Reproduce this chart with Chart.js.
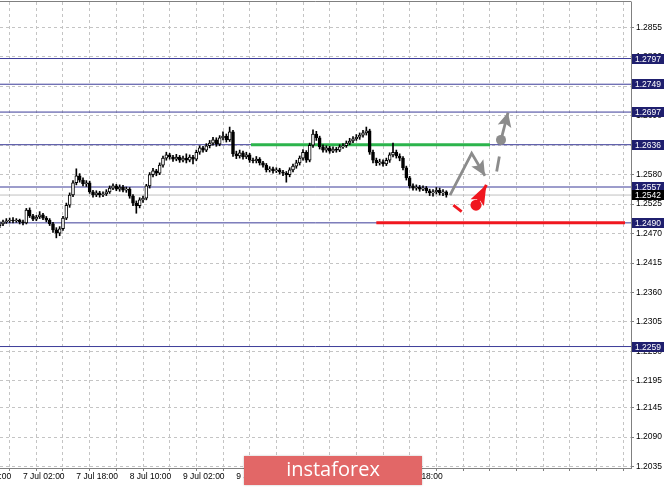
<!DOCTYPE html>
<html>
<head>
<meta charset="utf-8">
<script src="https://cdn.jsdelivr.net/npm/chart.js@4.4.0/dist/chart.umd.min.js"></script>
<style>
  html, body { margin: 0; padding: 0; background: #ffffff; }
</style>
</head>
<body>
<canvas id="chart" width="665" height="487"></canvas>
<script>
// GBPUSD H1, one entry per bar (bar index 0 = first bar on the left)
const opens = [
  1.2485, 1.2488, 1.2492, 1.2494, 1.2495, 1.2494, 1.2495, 1.2492, 1.2490, 1.2514,
  1.2503, 1.2497, 1.2501, 1.2505, 1.2499, 1.2495, 1.2488, 1.2477, 1.2471, 1.2479,
  1.2499, 1.2523, 1.2542, 1.2565, 1.2578, 1.2570, 1.2563, 1.2565, 1.2548, 1.2542,
  1.2546, 1.2542, 1.2544, 1.2548, 1.2555, 1.2559, 1.2553, 1.2557, 1.2551, 1.2553,
  1.2540, 1.2527, 1.2522, 1.2533, 1.2536, 1.2559, 1.2580, 1.2587, 1.2583, 1.2598,
  1.2611, 1.2617, 1.2613, 1.2609, 1.2613, 1.2607, 1.2611, 1.2607, 1.2613, 1.2609,
  1.2622, 1.2630, 1.2626, 1.2634, 1.2639, 1.2645, 1.2637, 1.2649, 1.2652, 1.2645,
  1.2660, 1.2619, 1.2615, 1.2621, 1.2613, 1.2617, 1.2607, 1.2606, 1.2609, 1.2602,
  1.2598, 1.2589, 1.2591, 1.2587, 1.2589, 1.2585, 1.2583, 1.2580, 1.2589, 1.2596,
  1.2602, 1.2611, 1.2622, 1.2607, 1.2635, 1.2656, 1.2649, 1.2632, 1.2626, 1.2630,
  1.2624, 1.2628, 1.2626, 1.2632, 1.2634, 1.2639, 1.2643, 1.2647, 1.2650, 1.2654,
  1.2658, 1.2662, 1.2622, 1.2607, 1.2602, 1.2604, 1.2600, 1.2607, 1.2617, 1.2622,
  1.2615, 1.2611, 1.2593, 1.2574, 1.2559, 1.2555, 1.2557, 1.2553, 1.2555, 1.2550,
  1.2546, 1.2548, 1.2551, 1.2546, 1.2548
];
const highs = [
  1.2492, 1.2495, 1.2498, 1.2499, 1.2500, 1.2498, 1.2497, 1.2495, 1.2517, 1.2518,
  1.2506, 1.2504, 1.2511, 1.2508, 1.2502, 1.2498, 1.2491, 1.2481, 1.2483, 1.2502,
  1.2527, 1.2546, 1.2569, 1.2591, 1.2582, 1.2574, 1.2569, 1.2568, 1.2551, 1.2550,
  1.2549, 1.2548, 1.2552, 1.2559, 1.2563, 1.2562, 1.2561, 1.2560, 1.2557, 1.2556,
  1.2543, 1.2531, 1.2537, 1.2540, 1.2562, 1.2584, 1.2592, 1.2590, 1.2602, 1.2615,
  1.2622, 1.2620, 1.2616, 1.2618, 1.2616, 1.2615, 1.2619, 1.2617, 1.2616, 1.2626,
  1.2634, 1.2633, 1.2638, 1.2644, 1.2650, 1.2649, 1.2653, 1.2660, 1.2656, 1.2669,
  1.2663, 1.2624, 1.2626, 1.2624, 1.2622, 1.2620, 1.2611, 1.2614, 1.2612, 1.2605,
  1.2601, 1.2595, 1.2594, 1.2593, 1.2592, 1.2588, 1.2586, 1.2593, 1.2600, 1.2607,
  1.2615, 1.2627, 1.2625, 1.2639, 1.2664, 1.2661, 1.2652, 1.2636, 1.2634, 1.2633,
  1.2632, 1.2631, 1.2636, 1.2638, 1.2643, 1.2648, 1.2651, 1.2655, 1.2658, 1.2663,
  1.2669, 1.2665, 1.2626, 1.2611, 1.2609, 1.2608, 1.2611, 1.2621, 1.2639, 1.2626,
  1.2619, 1.2614, 1.2596, 1.2577, 1.2563, 1.2561, 1.2560, 1.2559, 1.2558, 1.2553,
  1.2552, 1.2556, 1.2555, 1.2552, 1.2550
];
const lows = [
  1.2481, 1.2485, 1.2489, 1.2490, 1.2490, 1.2491, 1.2488, 1.2486, 1.2488, 1.2500,
  1.2494, 1.2494, 1.2498, 1.2496, 1.2492, 1.2485, 1.2472, 1.2462, 1.2466, 1.2476,
  1.2496, 1.2519, 1.2539, 1.2561, 1.2566, 1.2559, 1.2558, 1.2545, 1.2538, 1.2539,
  1.2538, 1.2539, 1.2541, 1.2545, 1.2552, 1.2550, 1.2549, 1.2548, 1.2547, 1.2536,
  1.2522, 1.2508, 1.2518, 1.2528, 1.2533, 1.2555, 1.2576, 1.2578, 1.2580, 1.2594,
  1.2607, 1.2609, 1.2605, 1.2606, 1.2603, 1.2604, 1.2602, 1.2604, 1.2600, 1.2606,
  1.2618, 1.2622, 1.2623, 1.2630, 1.2635, 1.2633, 1.2634, 1.2645, 1.2641, 1.2642,
  1.2614, 1.2610, 1.2611, 1.2609, 1.2610, 1.2603, 1.2602, 1.2602, 1.2598, 1.2594,
  1.2585, 1.2585, 1.2583, 1.2584, 1.2581, 1.2578, 1.2566, 1.2576, 1.2585, 1.2592,
  1.2598, 1.2607, 1.2603, 1.2604, 1.2631, 1.2644, 1.2628, 1.2622, 1.2622, 1.2620,
  1.2621, 1.2622, 1.2623, 1.2629, 1.2631, 1.2636, 1.2640, 1.2644, 1.2646, 1.2650,
  1.2654, 1.2618, 1.2602, 1.2597, 1.2598, 1.2596, 1.2597, 1.2603, 1.2613, 1.2611,
  1.2606, 1.2589, 1.2570, 1.2555, 1.2551, 1.2551, 1.2549, 1.2550, 1.2546, 1.2541,
  1.2540, 1.2544, 1.2542, 1.2541, 1.2538
];
const closes = [
  1.2488, 1.2492, 1.2494, 1.2495, 1.2494, 1.2495, 1.2492, 1.2490, 1.2514, 1.2503,
  1.2497, 1.2501, 1.2505, 1.2499, 1.2495, 1.2488, 1.2477, 1.2471, 1.2479, 1.2499,
  1.2523, 1.2542, 1.2565, 1.2578, 1.2570, 1.2563, 1.2565, 1.2548, 1.2542, 1.2546,
  1.2542, 1.2544, 1.2548, 1.2555, 1.2559, 1.2553, 1.2557, 1.2551, 1.2553, 1.2540,
  1.2527, 1.2522, 1.2533, 1.2536, 1.2559, 1.2580, 1.2587, 1.2583, 1.2598, 1.2611,
  1.2617, 1.2613, 1.2609, 1.2613, 1.2607, 1.2611, 1.2607, 1.2613, 1.2609, 1.2622,
  1.2630, 1.2626, 1.2634, 1.2639, 1.2645, 1.2637, 1.2649, 1.2652, 1.2645, 1.2660,
  1.2619, 1.2615, 1.2621, 1.2613, 1.2617, 1.2607, 1.2606, 1.2609, 1.2602, 1.2598,
  1.2589, 1.2591, 1.2587, 1.2589, 1.2585, 1.2583, 1.2580, 1.2589, 1.2596, 1.2602,
  1.2611, 1.2622, 1.2607, 1.2635, 1.2656, 1.2649, 1.2632, 1.2626, 1.2630, 1.2624,
  1.2628, 1.2626, 1.2632, 1.2634, 1.2639, 1.2643, 1.2647, 1.2650, 1.2654, 1.2658,
  1.2662, 1.2622, 1.2607, 1.2602, 1.2604, 1.2600, 1.2607, 1.2617, 1.2622, 1.2615,
  1.2611, 1.2593, 1.2574, 1.2559, 1.2555, 1.2557, 1.2553, 1.2555, 1.2550, 1.2546,
  1.2548, 1.2551, 1.2546, 1.2548, 1.2542
];

// time axis: vertical grid every 8 bars, labels every 16 bars
const xGridIdx = [-9, -1, 7, 15, 23, 31, 39, 47, 55, 63, 71, 79, 87, 95, 103, 111,
                  119, 127, 135, 143, 151, 159, 167, 175, 183];
const xTickIdx = [-9, 7, 23, 39, 55, 71, 87, 103, 119];
const xTickLabels = ["6 Jul 10:00", "7 Jul 02:00", "7 Jul 18:00", "8 Jul 10:00", "9 Jul 02:00",
                     "9 Jul 18:00", "10 Jul 10:00", "13 Jul 02:00", "13 Jul 18:00"];

const yTickValues = [1.2855, 1.2800, 1.2745, 1.2690, 1.2635, 1.2580, 1.2525, 1.2470,
                     1.2415, 1.2360, 1.2305, 1.2250, 1.2195, 1.2145, 1.2090, 1.2035];
const yTickLabels = yTickValues.map(v => v.toFixed(4));

// horizontal levels drawn on the chart
const levelValues = [1.2797, 1.2749, 1.2697, 1.2636, 1.2557, 1.2490, 1.2259];
const currentPrice = 1.2542;
const greenLevel = [1.2636, 75.4, 147.1];   // value, from bar, to bar
const redLevel = [1.2490, 113, 187.6];

// forecast arrows, in [bar, price]
const grayPath = [[135.1, 1.2542], [141.6, 1.2620], [145.6, 1.2578]];
const grayTick = [[149.1, 1.2586], [149.9, 1.2614]];
const grayUp = [[150.4, 1.2645], [152.5, 1.2696]];
const redTick = [[136.1, 1.2523], [138.6, 1.2511]];
const redUp = [[142.9, 1.2523], [146.0, 1.2561]];

const xMin = 0.1, xMax = 189.4;
const yMin = 1.20321, yMax = 1.29026;

const FONT = { family: "'Liberation Sans', Arial, sans-serif", size: 8.5 };
const NAVY_LINE = "#3b3b98";
const NAVY_BOX = "#1f1f6e";

function flat(value, from, to) {
  return [{ x: from, y: value }, { x: to, y: value }];
}
function pts(list) {
  return list.map(p => ({ x: p[0], y: p[1] }));
}
function lineSet(data, color, width, order, extra) {
  return Object.assign({
    type: "line", data, borderColor: color, backgroundColor: color, borderWidth: width,
    pointRadius: 0, fill: false, order, tension: 0
  }, extra || {});
}

const datasets = [];
levelValues.forEach(v => datasets.push(lineSet(flat(v, xMin, xMax), NAVY_LINE, 1, 9)));
datasets.push(lineSet(flat(currentPrice, xMin, xMax), "#c0c0c0", 1, 9));
datasets.push(lineSet(flat(greenLevel[0], greenLevel[1], greenLevel[2]), "#2cb44c", 3, 8));
datasets.push(lineSet(flat(redLevel[0], redLevel[1], redLevel[2]), "#f0171f", 3, 8));

datasets.push({
  type: "bar",
  data: lows.map((l, i) => ({ x: i, y: [l, highs[i]] })),
  backgroundColor: "#000000",
  barThickness: 1,
  grouped: false,
  order: 4
});
datasets.push({
  type: "bar",
  data: opens.map((o, i) => ({ x: i, y: [o, closes[i]] })),
  backgroundColor: ctx => (closes[ctx.dataIndex] >= opens[ctx.dataIndex] ? "#ffffff" : "#000000"),
  borderColor: "#000000",
  borderWidth: 1,
  borderSkipped: false,
  barThickness: 3,
  grouped: false,
  order: 3
});

datasets.push(lineSet(pts(grayPath), "#8c8c8c", 2.8, 1, { arrow: [15, 7] }));
datasets.push(lineSet(pts(grayTick), "#8c8c8c", 2.8, 1));
datasets.push(lineSet(pts(grayUp), "#8c8c8c", 2.8, 1, { arrow: [14, 7], dot: 5 }));
datasets.push(lineSet(pts(redTick), "#f0171f", 2.8, 1));
datasets.push(lineSet(pts(redUp), "#f0171f", 3, 1, { arrow: [20, 7.5], dot: 5.5 }));

const arrowPlugin = {
  id: "arrows",
  afterDatasetsDraw(chart) {
    const ctx = chart.ctx;
    chart.data.datasets.forEach((ds, di) => {
      if (!ds.arrow && !ds.dot) return;
      const el = chart.getDatasetMeta(di).data;
      ctx.save();
      ctx.fillStyle = ds.borderColor;
      if (ds.dot) {
        ctx.beginPath();
        ctx.arc(el[0].x, el[0].y, ds.dot, 0, Math.PI * 2);
        ctx.fill();
      }
      if (ds.arrow) {
        const a = el[el.length - 2], b = el[el.length - 1];
        const ang = Math.atan2(b.y - a.y, b.x - a.x);
        const [len, half] = ds.arrow;
        ctx.translate(b.x, b.y);
        ctx.rotate(ang);
        ctx.beginPath();
        ctx.moveTo(0, 0);
        ctx.lineTo(-len, -half);
        ctx.lineTo(-len * 0.8, 0);
        ctx.lineTo(-len, half);
        ctx.closePath();
        ctx.fill();
      }
      ctx.restore();
    });
  }
};

const framePlugin = {
  id: "frame",
  afterDraw(chart) {
    const { ctx, chartArea, scales } = chart;
    ctx.save();
    // top edge of the plot frame
    ctx.strokeStyle = "#808080";
    ctx.lineWidth = 1;
    ctx.beginPath();
    ctx.moveTo(0, chartArea.top - 0.5);
    ctx.lineTo(chartArea.right + 0.5, chartArea.top - 0.5);
    ctx.stroke();

    // price labels on the right axis
    ctx.font = "8.5px 'Liberation Sans', Arial, sans-serif";
    ctx.textBaseline = "middle";
    ctx.textAlign = "left";
    const boxes = levelValues.map(v => [v, NAVY_BOX]).concat([[currentPrice, "#000000"]]);
    boxes.forEach(([v, bg]) => {
      const y = Math.round(scales.y.getPixelForValue(v));
      ctx.fillStyle = bg;
      ctx.fillRect(chartArea.right + 1, y - 5, 32, 10);
      ctx.fillStyle = "#ffffff";
      ctx.fillText(v.toFixed(4), chartArea.right + 4, y + 0.5);
    });

    // watermark
    ctx.shadowColor = "rgba(0,0,0,0.25)";
    ctx.shadowBlur = 2;
    ctx.fillStyle = "#e26767";
    ctx.fillRect(244, 456, 178, 29);
    ctx.shadowColor = "transparent";
    ctx.fillStyle = "#ffffff";
    ctx.font = "20px 'Open Sans', 'Liberation Sans', sans-serif";
    ctx.textAlign = "center";
    ctx.fillText("instaforex", 333, 470);
    ctx.restore();
  }
};

new Chart(document.getElementById("chart"), {
  type: "bar",
  data: { datasets },
  plugins: [arrowPlugin, framePlugin],
  options: {
    responsive: false,
    animation: false,
    events: [],
    layout: { padding: { top: 2, left: 0, right: 0, bottom: 0 } },
    plugins: { legend: { display: false }, tooltip: { enabled: false } },
    scales: {
      x: {
        type: "linear",
        min: xMin,
        max: xMax,
        offset: false,
        afterBuildTicks(scale) {
          scale.ticks = xGridIdx.map(v => ({ value: v }));
        },
        afterFit(scale) {
          scale.height = 19;
          scale.paddingLeft = 0;
          scale.paddingRight = 0;
        },
        ticks: {
          autoSkip: false,
          maxRotation: 0,
          align: "start",
          padding: 1,
          color: "#000000",
          font: FONT,
          callback(value) {
            const k = xTickIdx.indexOf(value);
            return k < 0 ? "" : xTickLabels[k];
          }
        },
        grid: { color: "#c4c4c4", tickLength: 3, tickColor: "#808080" },
        border: { dash: [3, 3], color: "#808080" }
      },
      y: {
        type: "linear",
        position: "right",
        min: yMin,
        max: yMax,
        afterBuildTicks(scale) {
          scale.ticks = yTickValues.map(v => ({ value: v }));
        },
        afterFit(scale) {
          scale.width = 34;
          scale.paddingTop = 0;
          scale.paddingBottom = 0;
        },
        ticks: {
          padding: 2,
          color: "#000000",
          font: FONT,
          callback(value, index) {
            return yTickLabels[index];
          }
        },
        grid: { color: "#c4c4c4", tickLength: 3, tickColor: "#808080" },
        border: { dash: [3, 3], color: "#808080" }
      }
    }
  }
});
</script>
</body>
</html>
